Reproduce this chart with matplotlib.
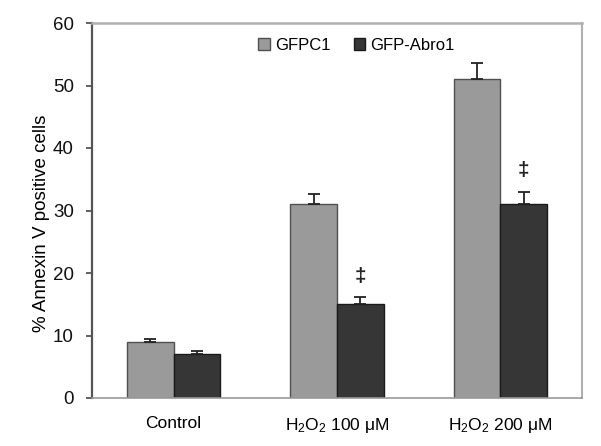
import matplotlib
matplotlib.use("Agg")
import matplotlib.pyplot as plt
import numpy as np
from matplotlib.patches import Patch

plt.rcParams['font.family'] = ['Liberation Sans', 'DejaVu Sans']
plt.rcParams['mathtext.fontset'] = 'custom'
plt.rcParams['mathtext.rm'] = 'Liberation Sans'
plt.rcParams['mathtext.it'] = 'Liberation Sans:italic'
plt.rcParams['mathtext.bf'] = 'Liberation Sans:bold'

categories = ['Control', r'H$_2$O$_2$ 100 μM', r'H$_2$O$_2$ 200 μM']
series_names = ['GFPC1', 'GFP-Abro1']
gfpc1 = [9.0, 31.0, 51.0]
gfpc1_err = [0.5, 1.6, 2.6]
abro1 = [7.0, 15.0, 31.0]
abro1_err = [0.5, 1.1, 2.0]
marks = ['', '‡', '‡']
yticks = [0, 10, 20, 30, 40, 50, 60]

fig = plt.figure(figsize=(6.01, 4.46), dpi=100)
ax = fig.add_axes([92/601, 48/446, 490/601, 375/446])

x = np.arange(len(categories))
w = 0.285
c1, c2 = '#9a9a9a', '#363636'
ax.bar(x - w/2, gfpc1, w, color=c1, edgecolor='#505050', linewidth=1.0, zorder=2)
ax.bar(x + w/2, abro1, w, color=c2, edgecolor='#1a1a1a', linewidth=1.0, zorder=2)
ax.errorbar(x - w/2, gfpc1, yerr=[np.zeros(3), gfpc1_err], fmt='none',
            ecolor='#222222', elinewidth=1.3, capsize=4, capthick=1.3, zorder=3)
ax.errorbar(x + w/2, abro1, yerr=[np.zeros(3), abro1_err], fmt='none',
            ecolor='#222222', elinewidth=1.3, capsize=4, capthick=1.3, zorder=3)
for xi, v, e, m in zip(x, abro1, abro1_err, marks):
    if m:
        ax.text(xi + w/2, v + e + 3.4, m, ha='center', va='center',
                fontsize=15, fontweight='bold', color='#222222')

ax.set_xlim(-0.5, 2.5)
ax.set_ylim(0, 60)
ax.set_yticks(yticks)
ax.set_xticks(x)
ax.set_xticklabels(categories, fontsize=12.5)
ax.tick_params(axis='x', length=0, pad=13)
ax.tick_params(axis='y', direction='out', length=4, width=1.3, color='#555555',
               labelsize=13.5, pad=9)
for lab in ax.get_yticklabels():
    lab.set_color('#111111')
ax.set_ylabel('% Annexin V positive cells', fontsize=13.5)
ax.yaxis.set_label_coords(-0.086, 0.467)

ax.spines['left'].set_color('#555555')
ax.spines['left'].set_linewidth(1.6)
ax.spines['bottom'].set_color('#999999')
ax.spines['bottom'].set_linewidth(1.2)
ax.spines['top'].set_color('#b0b0b0')
ax.spines['top'].set_linewidth(1.8)
ax.spines['right'].set_color('#b0b0b0')
ax.spines['right'].set_linewidth(1.5)

handles = [Patch(facecolor=c1, edgecolor='#505050'), Patch(facecolor=c2, edgecolor='#1a1a1a')]
ax.legend(handles, series_names, loc='center', bbox_to_anchor=(0.54, 0.94), ncol=2,
          frameon=False, fontsize=12, handlelength=0.7, handleheight=0.7,
          handletextpad=0.3, columnspacing=1.4)

fig.savefig('out.png', dpi=100)
